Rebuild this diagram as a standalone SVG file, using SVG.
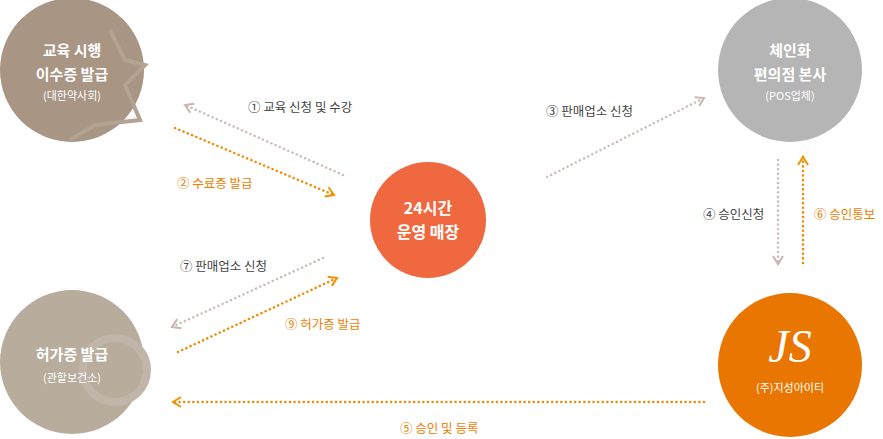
<svg xmlns="http://www.w3.org/2000/svg" width="883" height="439" viewBox="0 0 883 439">
<defs>
<style>
.t{font-family:"Noto Sans CJK KR","Noto Sans",sans-serif;text-anchor:middle;fill:#fff;font-weight:bold}
.s{font-family:"Noto Sans CJK KR","Noto Sans",sans-serif;text-anchor:middle;fill:#fff;font-size:11px}
.l{font-family:"Noto Sans CJK KR","Noto Sans",sans-serif;font-size:12.5px;fill:#444}
.lo{fill:#ee7d00}
.g{stroke:#cdbdb9;stroke-width:2.5;stroke-dasharray:0.1 4.5;stroke-linecap:round;fill:none}
.o{stroke:#f08a00;stroke-width:2.5;stroke-dasharray:0.1 4.5;stroke-linecap:round;fill:none}
</style>
<marker id="mg" viewBox="0 0 12 12" refX="10" refY="6" markerWidth="12" markerHeight="12" markerUnits="userSpaceOnUse" orient="auto"><path d="M2,1 L10,6 L2,11" fill="none" stroke="#c9b6b0" stroke-width="2"/></marker>
<marker id="mo" viewBox="0 0 12 12" refX="10" refY="6" markerWidth="12" markerHeight="12" markerUnits="userSpaceOnUse" orient="auto"><path d="M2,1 L10,6 L2,11" fill="none" stroke="#f39200" stroke-width="2"/></marker>
</defs>
<g id="edu"><circle cx="72" cy="70" r="72" fill="#a89584"/>
<path d="M110,30 L125,60 L145,65 L125,85 L140,120 L95,125 L70,140" fill="none" stroke="#b3a393" stroke-width="4"/>
<text class="t" x="72" y="56" font-size="15">교육 시행</text><text class="t" x="72" y="80" font-size="15">이수증 발급</text><text class="s" x="72" y="100">(대한약사회)</text></g>
<g id="hq"><circle cx="790" cy="70" r="72" fill="#b5b5b5"/>
<text class="t" x="790" y="56" font-size="15">체인화</text><text class="t" x="790" y="80" font-size="15">편의점 본사</text><text class="s" x="790" y="100">(POS업체)</text></g>
<g id="store"><circle cx="428" cy="220" r="58" fill="#f0683f"/>
<text class="t" x="428" y="214" font-size="16" font-weight="normal">24시간</text><text class="t" x="428" y="238" font-size="16" font-weight="normal">운영 매장</text></g>
<g id="gov"><circle cx="72" cy="362" r="72" fill="#b8ac9d"/>
<circle cx="115" cy="370" r="32" fill="none" stroke="#c0b5a8" stroke-width="8"/>
<text class="t" x="72" y="360" font-size="15">허가증 발급</text><text class="s" x="72" y="382">(관할보건소)</text></g>
<g id="js"><circle cx="790" cy="365" r="72" fill="#e87600"/>
<text x="790" y="362" text-anchor="middle" font-family="Liberation Serif,serif" font-style="italic" font-size="46" fill="#fff">JS</text>
<text class="s" x="790" y="392" font-size="12">(주)지성아이티</text></g>
<g id="connectors">
<line class="g" x1="343" y1="175" x2="185" y2="105" marker-end="url(#mg)"/>
<line class="o" x1="175" y1="128" x2="334" y2="195" marker-end="url(#mo)"/>
<line class="g" x1="547" y1="177" x2="704" y2="98" marker-end="url(#mg)"/>
<line class="g" x1="323" y1="258" x2="172" y2="327" marker-end="url(#mg)"/>
<line class="o" x1="178" y1="352" x2="337" y2="278" marker-end="url(#mo)"/>
<line class="g" x1="778" y1="160" x2="778" y2="264" marker-end="url(#mg)"/>
<line class="o" x1="803" y1="263" x2="803" y2="157" marker-end="url(#mo)"/>
<line class="o" x1="704" y1="402" x2="173" y2="402" marker-end="url(#mo)"/>
</g>
<g id="labels">
<text class="l" x="248" y="112">① 교육 신청 및 수강</text>
<text class="l lo" x="177" y="188">② 수료증 발급</text>
<text class="l" x="546" y="116">③ 판매업소 신청</text>
<text class="l" x="703" y="219">④ 승인신청</text>
<text class="l lo" x="814" y="219">⑥ 승인통보</text>
<text class="l" x="180" y="271">⑦ 판매업소 신청</text>
<text class="l lo" x="285" y="329">⑨ 허가증 발급</text>
<text class="l lo" x="400" y="433">⑤ 승인 및 등록</text>
</g>
</svg>
